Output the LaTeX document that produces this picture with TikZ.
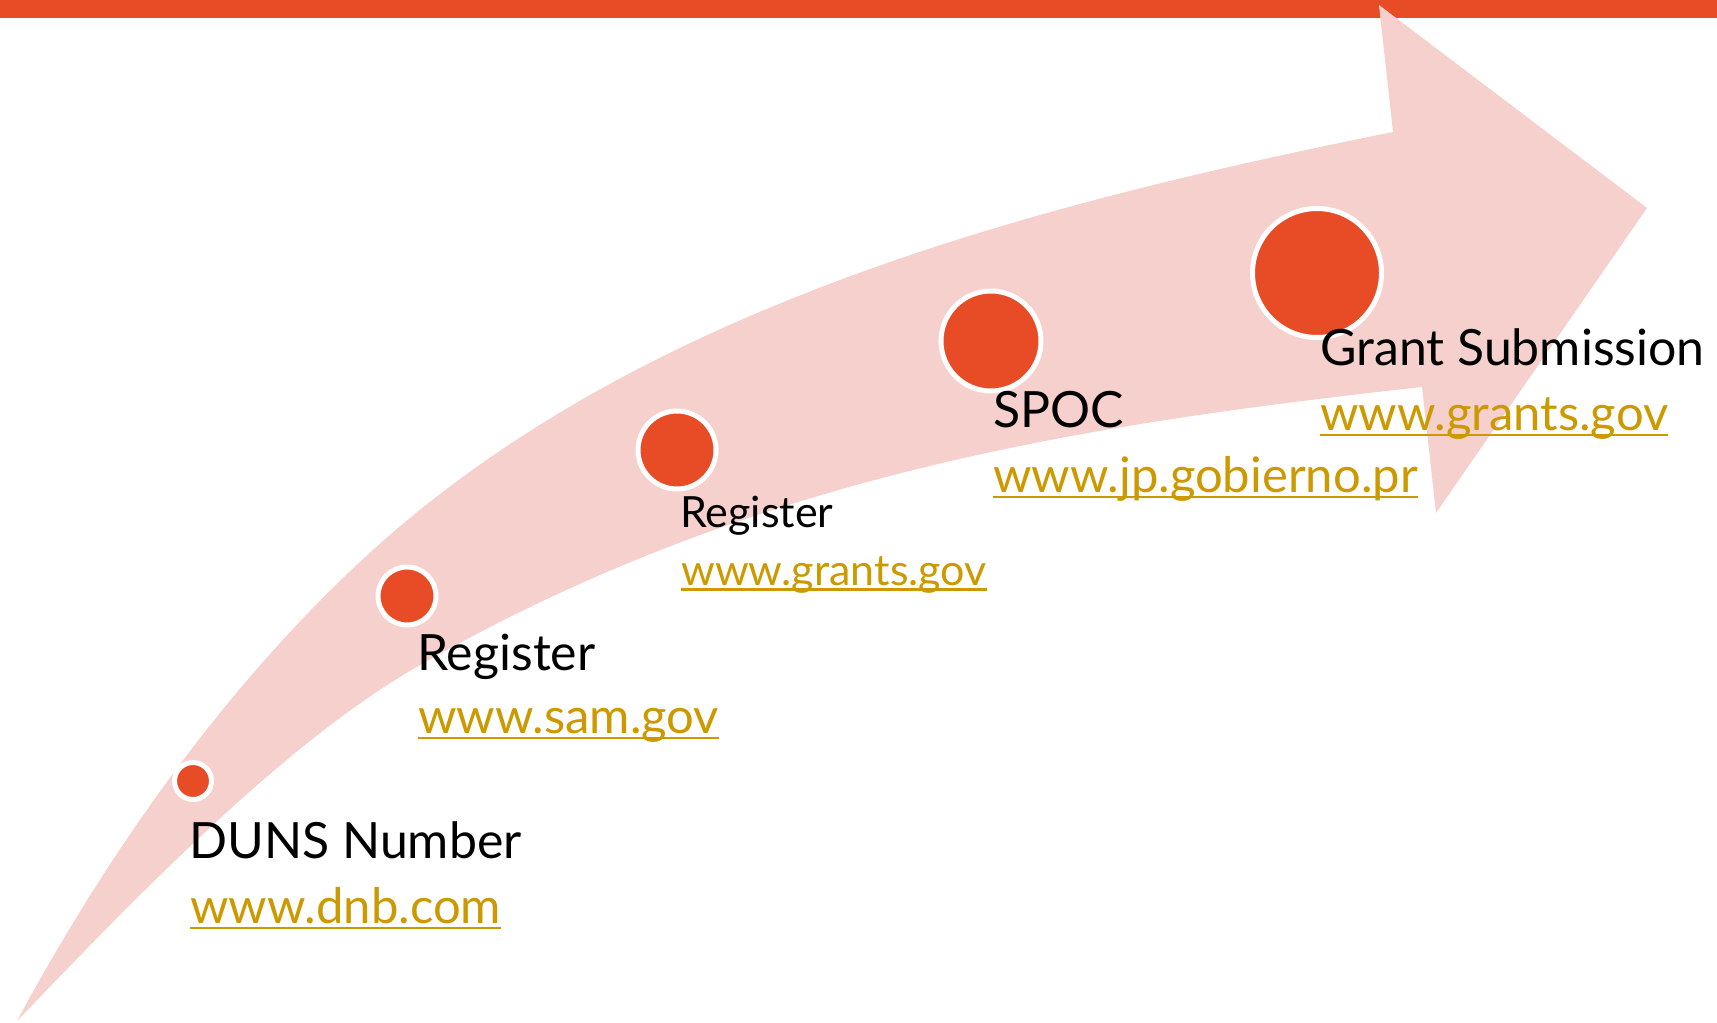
\documentclass[tikz,border=0pt]{standalone}
\usepackage{fontspec}
\setmainfont{Lato}
\definecolor{pinkc}{RGB}{246,208,205}
\definecolor{redc}{RGB}{232,76,38}
\definecolor{linkc}{RGB}{204,153,0}
\begin{document}
\begin{tikzpicture}[x=1pt,y=-1pt,
  dot/.style={circle, fill=redc, draw=white, line width=5pt, inner sep=0pt},
  title/.style={anchor=base west, inner sep=0pt, font=\fontsize{50}{58}\selectfont, text=black},
  link/.style={anchor=base west, inner sep=0pt, font=\fontsize{49}{58}\selectfont, text=linkc},
  smalltitle/.style={title, font=\fontsize{43}{50}\selectfont},
  smalllink/.style={link, font=\fontsize{43}{50}\selectfont},
  uline/.style={draw=linkc, line width=2.8pt}]
\useasboundingbox (0,0) rectangle (1717,1023);
\fill[redc] (0,0) rectangle (1717,18);
\fill[pinkc] (17,1021) .. controls (107,854) and (223,689) .. (362,560)
  .. controls (633,308) and (1030,205) .. (1393,132)
  -- (1379,5) -- (1647,208) -- (1436,513) -- (1422,387)
  .. controls (1072,425.5) and (750,477) .. (420,665)
  .. controls (290,739) and (147,885) .. (17,1021) -- cycle;
\node[dot, minimum size=37pt] (c1) at (193,781) {};
\node[dot, minimum size=58pt] (c2) at (407,596) {};
\node[dot, minimum size=78pt] (c3) at (677,450) {};
\node[dot, minimum size=100pt] (c4) at (991,341) {};
\node[dot, minimum size=129pt] (c5) at (1317,273) {};
\node[title] (t1) at (189,858) {DUNS Number};
\node[link] (l1) at (190,923) {www.dnb.com};
\node[title] (t2) at (417,670) {Register};
\node[link] (l2) at (418,733) {www.sam.gov};
\node[smalltitle] (t3) at (680,527) {Register};
\node[smalllink] (l3) at (681,585) {www.grants.gov};
\node[title] (t4) at (993,427) {SPOC};
\node[link] (l4) at (993,492) {www.jp.gobierno.pr};
\node[title] (t5) at (1320,365) {Grant Submission};
\node[link] (l5) at (1320,430) {www.grants.gov};
\foreach \n in {l1,l2,l4,l5} {
  \draw[uline] ([yshift=-5pt]\n.base west) -- ([yshift=-5pt]\n.base east);
}
\draw[uline] ([yshift=-4.5pt]l3.base west) -- ([yshift=-4.5pt]l3.base east);
\end{tikzpicture}
\end{document}
